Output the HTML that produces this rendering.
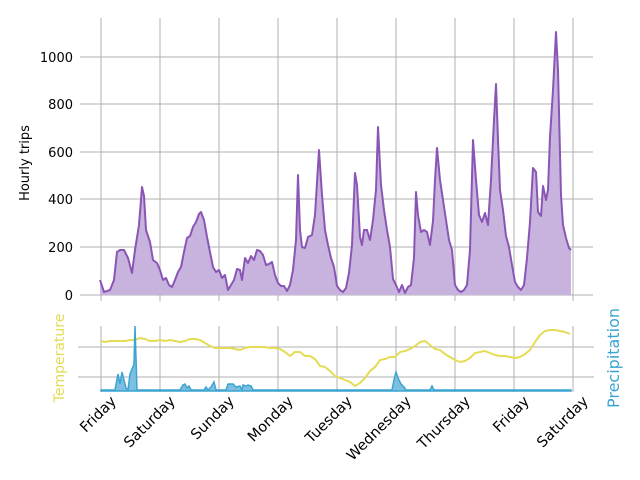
<!DOCTYPE html>
<html><head><meta charset="utf-8"><style>
html,body{margin:0;padding:0;background:#fff;width:640px;height:480px;overflow:hidden}
svg text{font-family:"DejaVu Sans","Liberation Sans",sans-serif;font-size:13px;fill:#000}
svg text.xl{font-size:14.5px}
svg text.tl{font-size:14px;fill:#e5dc55}
svg text.pl{font-size:16px;fill:#3ba4d0}
</style></head><body>
<svg width="640" height="480" viewBox="0 0 640 480">
<g stroke="#b0b0b0" stroke-width="1">
<line x1="101" y1="18" x2="101" y2="301"/><line x1="160" y1="18" x2="160" y2="301"/><line x1="219" y1="18" x2="219" y2="301"/><line x1="278" y1="18" x2="278" y2="301"/><line x1="337" y1="18" x2="337" y2="301"/><line x1="396" y1="18" x2="396" y2="301"/><line x1="455" y1="18" x2="455" y2="301"/><line x1="514" y1="18" x2="514" y2="301"/><line x1="573" y1="18" x2="573" y2="301"/>
<line x1="80" y1="295" x2="593" y2="295"/><line x1="80" y1="247" x2="593" y2="247"/><line x1="80" y1="199" x2="593" y2="199"/><line x1="80" y1="152" x2="593" y2="152"/><line x1="80" y1="104" x2="593" y2="104"/><line x1="80" y1="57" x2="593" y2="57"/>
<line x1="101" y1="326" x2="101" y2="392"/><line x1="160" y1="326" x2="160" y2="392"/><line x1="219" y1="326" x2="219" y2="392"/><line x1="278" y1="326" x2="278" y2="392"/><line x1="337" y1="326" x2="337" y2="392"/><line x1="396" y1="326" x2="396" y2="392"/><line x1="455" y1="326" x2="455" y2="392"/><line x1="514" y1="326" x2="514" y2="392"/><line x1="573" y1="326" x2="573" y2="392"/>
<line x1="78" y1="347" x2="594" y2="347"/><line x1="78" y1="377" x2="594" y2="377"/>
</g>
<g text-anchor="end">
<text x="73" y="300">0</text><text x="73" y="252">200</text><text x="73" y="204">400</text><text x="73" y="157">600</text><text x="73" y="109">800</text><text x="73" y="62">1000</text>
</g>
<text transform="translate(29,163) rotate(-90)" text-anchor="middle">Hourly trips</text>
<polygon fill="#c7b3de" points="100,295 100,280 104,292 110,290 114,280 117,252 120,250 124,250 128,258 132,273 135,250 139,225 142,187 144,196 146,230 150,242 153,260 157,263 160,270 163,280 166,278 169,285 172,287 175,280 178,272 181,267 184,252 187,238 190,236 193,227 196,222 199,214 201,212 204,220 207,237 210,252 213,267 216,272 219,270 222,278 225,275 228,290 231,285 234,280 237,269 240,270 242,280 245,258 248,263 251,256 254,260 257,250 260,251 263,255 266,265 269,264 272,262 275,275 278,283 281,286 284,286 287,291 290,285 293,270 296,240 298,175 300,230 302,247 305,248 308,237 312,235 315,215 319,150 322,195 325,230 328,245 331,258 334,267 337,286 340,290 343,292 346,288 349,273 352,245 355,173 357,185 360,237 362,245 364,230 367,230 370,240 373,220 376,190 378,127 381,185 384,210 387,230 390,247 393,279 396,285 399,292 402,285 405,293 408,287 411,285 414,258 416,192 418,215 421,232 424,230 427,232 430,245 433,221 435,180 437,148 440,180 443,200 446,220 449,240 452,250 455,285 458,290 461,292 464,290 467,285 470,250 473,140 476,180 479,215 482,222 485,213 488,225 491,180 494,120 496,84 498,140 500,190 503,210 506,236 509,247 512,265 515,282 518,287 521,290 524,285 527,258 530,222 533,168 536,172 538,212 541,216 543,186 546,200 548,190 550,137 553,90 556,32 558,70 561,195 563,225 566,238 569,248 571,250 571,295"/>
<polyline fill="none" stroke="#8a56b6" stroke-width="2" stroke-linejoin="round" points="100,280 104,292 110,290 114,280 117,252 120,250 124,250 128,258 132,273 135,250 139,225 142,187 144,196 146,230 150,242 153,260 157,263 160,270 163,280 166,278 169,285 172,287 175,280 178,272 181,267 184,252 187,238 190,236 193,227 196,222 199,214 201,212 204,220 207,237 210,252 213,267 216,272 219,270 222,278 225,275 228,290 231,285 234,280 237,269 240,270 242,280 245,258 248,263 251,256 254,260 257,250 260,251 263,255 266,265 269,264 272,262 275,275 278,283 281,286 284,286 287,291 290,285 293,270 296,240 298,175 300,230 302,247 305,248 308,237 312,235 315,215 319,150 322,195 325,230 328,245 331,258 334,267 337,286 340,290 343,292 346,288 349,273 352,245 355,173 357,185 360,237 362,245 364,230 367,230 370,240 373,220 376,190 378,127 381,185 384,210 387,230 390,247 393,279 396,285 399,292 402,285 405,293 408,287 411,285 414,258 416,192 418,215 421,232 424,230 427,232 430,245 433,221 435,180 437,148 440,180 443,200 446,220 449,240 452,250 455,285 458,290 461,292 464,290 467,285 470,250 473,140 476,180 479,215 482,222 485,213 488,225 491,180 494,120 496,84 498,140 500,190 503,210 506,236 509,247 512,265 515,282 518,287 521,290 524,285 527,258 530,222 533,168 536,172 538,212 541,216 543,186 546,200 548,190 550,137 553,90 556,32 558,70 561,195 563,225 566,238 569,248 571,250"/>
<polyline fill="none" stroke="#e5dc55" stroke-width="2" points="101,341 105,342 110,341 115,341 120,341 125,341 130,340 135,340 140,338 145,339 150,341 155,341 160,340 165,341 170,340 175,341 180,342 185,341 190,339 195,339 200,340 205,343 210,346 215,348 220,348 225,348 230,348 235,349 240,350 245,348 250,347 255,347 260,347 265,347 270,348 275,348 280,349 285,352 290,356 295,352 300,352 305,356 310,356 315,359 320,366 325,367 330,371 335,376 340,378 345,380 350,382 355,386 360,383 365,378 370,371 375,367 380,360 385,359 390,357 395,357 400,352 405,351 410,349 415,346 420,342 425,341 430,345 435,349 440,350 445,354 450,357 455,360 460,362 465,361 470,358 475,353 480,352 485,351 490,353 495,355 500,356 505,356 510,357 515,358 520,357 525,354 530,350 535,342 540,335 545,331 550,330 555,330 560,331 565,332 570,334"/>
<polygon fill="#7dbfe0" stroke="#3ba4d0" stroke-width="1.5" points="101,390 115,390 118,374 120,384 122,372 124,380 126,388 128,390 130,374 134,364 135,326 137,390 180,390 183,385 185,384 187,388 189,386 191,390 204,390 206,387 208,390 211,387 214,382 216,390 226,390 228,384 233,384 236,387 240,386 242,390 243,385 246,386 248,385 251,386 253,390 392,390 394,380 396,372 398,378 401,384 404,387 406,390 430,390 432,386 434,390 571,390 571,391 101,391"/>
<text class="tl" transform="translate(64,358) rotate(-90)" text-anchor="middle">Temperature</text>
<text class="pl" transform="translate(619,358) rotate(-90)" text-anchor="middle">Precipitation</text>
<g text-anchor="end">
<text class="xl" transform="translate(117,402) rotate(-45)">Friday</text>
<text class="xl" transform="translate(176,402) rotate(-45)">Saturday</text>
<text class="xl" transform="translate(235,402) rotate(-45)">Sunday</text>
<text class="xl" transform="translate(294,402) rotate(-45)">Monday</text>
<text class="xl" transform="translate(353,402) rotate(-45)">Tuesday</text>
<text class="xl" transform="translate(412,402) rotate(-45)">Wednesday</text>
<text class="xl" transform="translate(471,402) rotate(-45)">Thursday</text>
<text class="xl" transform="translate(530,402) rotate(-45)">Friday</text>
<text class="xl" transform="translate(589,402) rotate(-45)">Saturday</text>
</g>
</svg>
</body></html>
